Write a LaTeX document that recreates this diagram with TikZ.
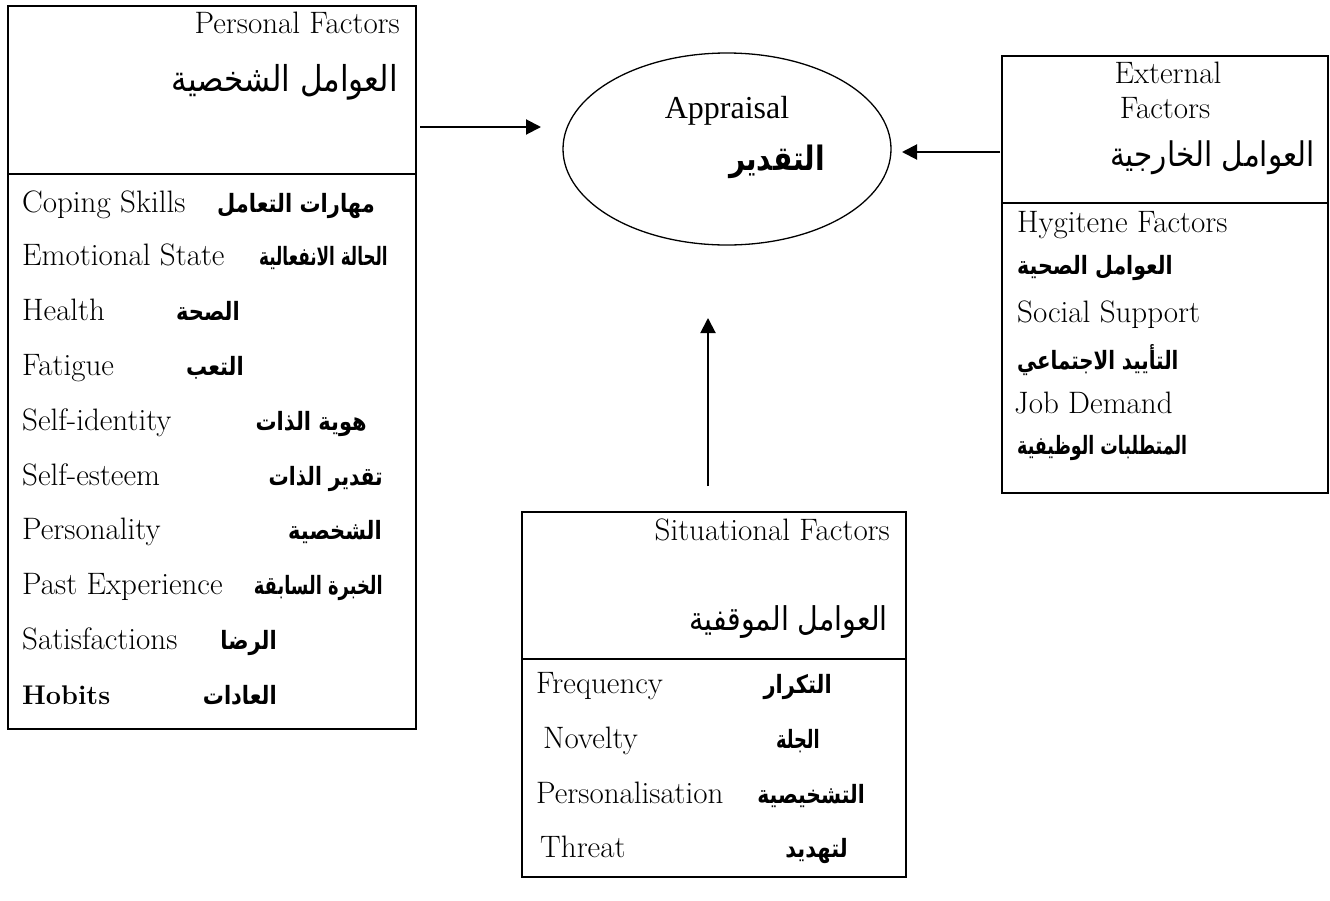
\documentclass[tikz,border=0pt]{standalone}
\usepackage{fontspec}
\usepackage{graphicx}
\usetikzlibrary{arrows.meta,shapes.geometric}
\newfontfamily\timesfont{Liberation Serif}
\newfontfamily\arabicfont[Script=Arabic]{DejaVu Sans}
\TeXXeTstate=1
\newcommand{\ARs}[2]{\scalebox{#1}[1.2]{#2}}
\newcommand{\ARh}[1]{\scalebox{1}[1.15]{#1}}
\begin{document}
\begin{tikzpicture}[x=1pt,y=-1pt,
  box/.style={draw,line width=2pt,rectangle,inner sep=0pt,anchor=north west},
  divline/.style={line width=2pt},
  en/.style={inner sep=0pt,font=\fontsize{31}{34}\selectfont},
  enb/.style={inner sep=0pt,font=\fontsize{27}{32}\selectfont\bfseries},
  arb/.style={inner sep=0pt,font=\arabicfont\bfseries\fontsize{21}{26}\selectfont},
  arh/.style={inner sep=0pt,font=\arabicfont\fontsize{30}{34}\selectfont},
  arr/.style={line width=2pt,-{Triangle[length=15pt,width=15pt]}}]
\useasboundingbox (0,0) rectangle (1330,900);
% boxes
\node[box,minimum width=408pt,minimum height=723pt] (pers) at (7,5) {};
\draw[divline] (7,174) -- (415,174);
\node[box,minimum width=326pt,minimum height=437pt] (ext) at (1001,55) {};
\draw[divline] (1001,203) -- (1327,203);
\node[box,minimum width=384pt,minimum height=365pt] (sit) at (521,511) {};
\draw[divline] (521,659) -- (905,659);
% ellipse
\node[draw,ellipse,line width=1.3pt,minimum width=328pt,minimum height=192pt,inner sep=0pt] (app) at (727,149) {};
\node[inner sep=0pt,anchor=base,font=\timesfont\fontsize{32}{36}\selectfont] (appen) at (727,118) {Appraisal};
\node[inner sep=0pt,anchor=east,font=\arabicfont\bfseries\fontsize{28}{32}\selectfont] (appar) at (825,162) {\ARs{1}{\beginR التقدير\endR}};
% personal
\node[en,anchor=base east] (ph) at (400,33) {Personal Factors};
\node[arh,anchor=east,font=\arabicfont\fontsize{31}{34}\selectfont] (pha) at (398,82) {\ARh{\beginR العوامل الشخصية\endR}};
\node[en,anchor=base west] (p1) at (22,212) {Coping Skills};
\node[arb,anchor=base east] (p1a) at (375,212) {\ARs{1}{\beginR مهارات التعامل\endR}};
\node[en,anchor=base west] (p2) at (22,265) {Emotional State};
\node[arb,anchor=base east] (p2a) at (388,265) {\ARs{0.8}{\beginR الحالة الانفعالية\endR}};
\node[en,anchor=base west] (p3) at (22,320) {Health};
\node[arb,anchor=base east] (p3a) at (240,320) {\ARs{1}{\beginR الصحة\endR}};
\node[en,anchor=base west] (p4) at (22,375) {Fatigue};
\node[arb,anchor=base east] (p4a) at (244,375) {\ARs{1}{\beginR التعب\endR}};
\node[en,anchor=base west] (p5) at (22,430) {Self-identity};
\node[arb,anchor=base east] (p5a) at (367,430) {\ARs{1}{\beginR هوية الذات\endR}};
\node[en,anchor=base west] (p6) at (22,485) {Self-esteem};
\node[arb,anchor=base east] (p6a) at (383,485) {\ARs{0.96}{\beginR تقدير الذات\endR}};
\node[en,anchor=base west] (p7) at (22,539) {Personality};
\node[arb,anchor=base east] (p7a) at (382,539) {\ARs{1}{\beginR الشخصية\endR}};
\node[en,anchor=base west] (p8) at (22,594) {Past Experience};
\node[arb,anchor=base east] (p8a) at (383,594) {\ARs{0.85}{\beginR الخبرة السابقة\endR}};
\node[en,anchor=base west] (p9) at (22,649) {Satisfactions};
\node[arb,anchor=base east] (p9a) at (277,649) {\ARs{1}{\beginR الرضا\endR}};
\node[enb,anchor=base west] (p10) at (22,704) {Hobits};
\node[arb,anchor=base east] (p10a) at (277,704) {\ARs{1}{\beginR العادات\endR}};
% external
\node[en,anchor=base] (eh1) at (1168,83) {External};
\node[en,anchor=base] (eh2) at (1165,118) {Factors};
\node[arh,anchor=east,font=\arabicfont\fontsize{29.5}{34}\selectfont] (eha) at (1315,158) {\ARh{\beginR العوامل الخارجية\endR}};
\node[en,anchor=base west] (e1) at (1017,232) {Hygitene Factors};
\node[arb,anchor=west] (e1a) at (1017,268) {\ARs{0.98}{\beginR العوامل الصحية\endR}};
\node[en,anchor=base west] (e2) at (1017,322) {Social Support};
\node[arb,anchor=west] (e2a) at (1017,360) {\ARs{0.94}{\beginR التأييد الاجتماعي\endR}};
\node[en,anchor=base west] (e3) at (1014,413) {Job Demand};
\node[arb,anchor=west] (e3a) at (1017,448) {\ARs{0.83}{\beginR المتطلبات الوظيفية\endR}};
% situational
\node[en,anchor=base east] (sh) at (890,540) {Situational Factors};
\node[arh,anchor=east,font=\arabicfont\fontsize{28.5}{34}\selectfont] (sha) at (888,622) {\ARh{\beginR العوامل الموقفية\endR}};
\node[en,anchor=base west] (s1) at (536,693) {Frequency};
\node[arb,anchor=base east] (s1a) at (832,693) {\ARs{1}{\beginR التكرار\endR}};
\node[en,anchor=base west] (s2) at (543,748) {Novelty};
\node[arb,anchor=base east] (s2a) at (820,748) {\ARs{0.85}{\beginR الجلة\endR}};
\node[en,anchor=base west] (s3) at (536,803) {Personalisation};
\node[arb,anchor=base east] (s3a) at (865,803) {\ARs{0.97}{\beginR التشخيصية\endR}};
\node[en,anchor=base west] (s4) at (540,857) {Threat};
\node[arb,anchor=base east] (s4a) at (848,857) {\ARs{1}{\beginR لتهديد\endR}};
% connectors
\coordinate (a1s) at (420,127);
\coordinate (a1e) at (541,127);
\coordinate (a2s) at (1000,152);
\coordinate (a2e) at (902,152);
\coordinate (a3s) at (708,486);
\coordinate (a3e) at (708,318);
\draw[arr] (a1s) -- (a1e);
\draw[arr] (a2s) -- (a2e);
\draw[arr] (a3s) -- (a3e);
\end{tikzpicture}
\end{document}
